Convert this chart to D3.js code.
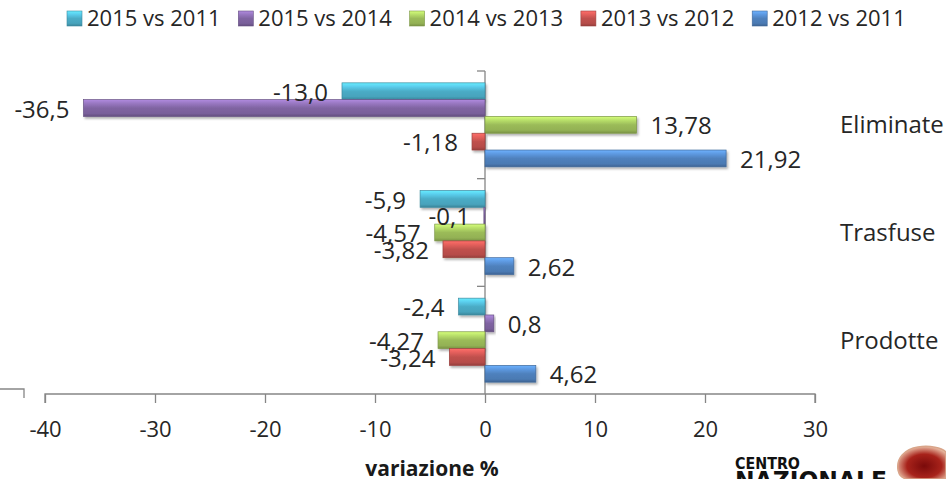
<!DOCTYPE html>
<html>
<head>
<meta charset="utf-8">
<script src="https://cdn.jsdelivr.net/npm/d3@7"></script>
<style>
  body { margin: 0; background: #fff; }
  svg { display: block; font-family: "Open Sans", sans-serif; }
</style>
</head>
<body>
<div id="chart"></div>
<script>
// categories (top to bottom) and series (top bar to bottom bar in each group)
var categories = ["Eliminate", "Trasfuse", "Prodotte"];
var series = ["2015 vs 2011", "2015 vs 2014", "2014 vs 2013", "2013 vs 2012", "2012 vs 2011"];
var colors = ["#4bacc6", "#8064a2", "#9bbb59", "#c0504d", "#4f81bd"];
var decimals = [1, 1, 2, 2, 2];

// one array per series, same order as categories
var v2015vs2011 = [-13.0, -5.9, -2.4];
var v2015vs2014 = [-36.5, -0.1, 0.8];
var v2014vs2013 = [13.78, -4.57, -4.27];
var v2013vs2012 = [-1.18, -3.82, -3.24];
var v2012vs2011 = [21.92, 2.62, 4.62];
var seriesValues = [v2015vs2011, v2015vs2014, v2014vs2013, v2013vs2012, v2012vs2011];

var xTicks = [-40, -30, -20, -10, 0, 10, 20, 30];

var w = 946, h = 479;

var svg = d3.select("#chart").append("svg")
  .attr("width", w)
  .attr("height", h);

var locale = d3.formatLocale({decimal: ",", thousands: ".", grouping: [3], currency: ["", "€"], minus: "-"});

var x = d3.scaleLinear().domain([-40, 30]).range([45, 815]);
var y0 = d3.scaleBand().domain(categories).range([71, 394]).paddingInner(0.22).paddingOuter(0.11);
var y1 = d3.scaleBand().domain(series).range([0, y0.bandwidth()]);

// gradients for the bevelled bars
var defs = svg.append("defs");
colors.forEach(function(c, i) {
  var base = d3.color(c);
  var g = defs.append("linearGradient")
    .attr("id", "grad" + i)
    .attr("x1", 0).attr("y1", 0).attr("x2", 0).attr("y2", 1);
  g.append("stop").attr("offset", "0%").attr("stop-color", base.brighter(0.9));
  g.append("stop").attr("offset", "22%").attr("stop-color", base.brighter(0.5));
  g.append("stop").attr("offset", "50%").attr("stop-color", base);
  g.append("stop").attr("offset", "82%").attr("stop-color", base.darker(0.15));
  g.append("stop").attr("offset", "100%").attr("stop-color", base.darker(0.7));
});
var f = defs.append("filter").attr("id", "shadow").attr("x", "-10%").attr("y", "-30%").attr("width", "130%").attr("height", "180%");
f.append("feDropShadow").attr("dx", 1.5).attr("dy", 2).attr("stdDeviation", 1.2)
  .attr("flood-color", "#000").attr("flood-opacity", 0.3);

// legend
var legend = svg.append("g");
series.forEach(function(s, i) {
  var lx = 67 + i * 171.3;
  legend.append("rect")
    .attr("x", lx).attr("y", 11)
    .attr("width", 15).attr("height", 15)
    .attr("fill", "url(#grad" + i + ")")
    .attr("stroke", d3.color(colors[i]).darker(0.6))
    .attr("stroke-width", 0.6);
  legend.append("text")
    .attr("x", lx + 20).attr("y", 26)
    .attr("font-size", 22)
    .attr("fill", "#262626")
    .text(s);
});

// x axis
var xAxis = svg.append("g")
  .attr("transform", "translate(0,394)")
  .call(d3.axisBottom(x).tickValues(xTicks).tickSize(9).tickFormat(locale.format("d")));
xAxis.select(".domain").attr("stroke", "#868686").attr("stroke-width", 1.3).attr("d", "M45,9V0H815V9");
xAxis.selectAll(".tick line").attr("stroke", "#868686").attr("stroke-width", 1.3);
xAxis.selectAll(".tick text")
  .attr("font-family", "Open Sans")
  .attr("font-size", 22)
  .attr("fill", "#262626")
  .attr("y", 43)
  .attr("dy", 0);

// vertical axis at zero with category ticks
var yAxis = svg.append("g").attr("transform", "translate(" + x(0) + ",0)");
yAxis.append("line")
  .attr("x1", 0).attr("x2", 0).attr("y1", 71).attr("y2", 394)
  .attr("stroke", "#868686").attr("stroke-width", 1.3);
categories.forEach(function(c) {
  var ty = y0(c) - y0.step() * y0.paddingInner() / 2;
  yAxis.append("line")
    .attr("x1", -8).attr("x2", 0).attr("y1", ty).attr("y2", ty)
    .attr("stroke", "#868686").attr("stroke-width", 1.3);
});

// bars
var groups = svg.selectAll("g.cat")
  .data(categories)
  .enter().append("g")
  .attr("class", "cat")
  .attr("transform", function(c) { return "translate(0," + y0(c) + ")"; });

groups.selectAll("rect")
  .data(function(c, ci) {
    return series.map(function(s, si) { return {s: s, si: si, v: seriesValues[si][ci]}; });
  })
  .enter().append("rect")
  .attr("x", function(d) { return Math.min(x(0), x(d.v)); })
  .attr("y", function(d) { return y1(d.s); })
  .attr("width", function(d) { return Math.abs(x(d.v) - x(0)); })
  .attr("height", y1.bandwidth())
  .attr("fill", function(d) { return "url(#grad" + d.si + ")"; })
  .attr("stroke", function(d) { return d3.color(colors[d.si]).darker(0.6); })
  .attr("stroke-width", 0.7)
  .attr("filter", "url(#shadow)");

// value labels
groups.selectAll("text.val")
  .data(function(c, ci) {
    return series.map(function(s, si) { return {s: s, si: si, v: seriesValues[si][ci]}; });
  })
  .enter().append("text")
  .attr("class", "val")
  .attr("x", function(d) { return d.v < 0 ? x(d.v) - 14 : x(d.v) + 14; })
  .attr("y", function(d) { return y1(d.s) + y1.bandwidth() / 2 + 1; })
  .attr("dy", "0.36em")
  .attr("text-anchor", function(d) { return d.v < 0 ? "end" : "start"; })
  .attr("font-size", 24)
  .attr("fill", "#262626")
  .text(function(d) { return locale.format("." + decimals[d.si] + "f")(d.v); });

// category labels on the right
svg.selectAll("text.cat")
  .data(categories)
  .enter().append("text")
  .attr("class", "cat")
  .attr("x", 840)
  .attr("y", function(c) { return y0(c) + y0.bandwidth() / 2; })
  .attr("dy", "0.36em")
  .attr("font-size", 24)
  .attr("fill", "#262626")
  .text(function(c) { return c; });

// axis title
svg.append("text")
  .attr("x", 432).attr("y", 476)
  .attr("text-anchor", "middle")
  .attr("font-size", 21)
  .attr("font-weight", "bold")
  .attr("fill", "#1a1a1a")
  .text("variazione %");

// stray frame corner at the left edge
svg.append("path")
  .attr("d", "M0,389H24V398")
  .attr("fill", "none")
  .attr("stroke", "#868686")
  .attr("stroke-width", 1.3);

// logo remains bottom right
svg.append("text")
  .attr("x", 735).attr("y", 469)
  .attr("font-family", "DejaVu Sans Condensed, DejaVu Sans")
  .attr("font-weight", "bold")
  .attr("font-size", 15)
  .attr("textLength", 65)
  .attr("lengthAdjust", "spacingAndGlyphs")
  .attr("fill", "#111")
  .text("CENTRO");
svg.append("text")
  .attr("x", 735).attr("y", 489)
  .attr("font-family", "DejaVu Sans Condensed, DejaVu Sans")
  .attr("font-weight", "bold")
  .attr("font-size", 24)
  .attr("textLength", 152)
  .attr("lengthAdjust", "spacingAndGlyphs")
  .attr("fill", "#111")
  .text("NAZIONALE");
var rg = defs.append("radialGradient").attr("id", "logo").attr("cx", "55%").attr("cy", "60%").attr("r", "60%");
rg.append("stop").attr("offset", "0%").attr("stop-color", "#7a0a0a");
rg.append("stop").attr("offset", "60%").attr("stop-color", "#a8231b");
rg.append("stop").attr("offset", "100%").attr("stop-color", "#e8b8a0");
svg.append("path")
  .attr("d", "M898,470 C896,458 905,449 918,447 C930,445 942,448 946,452 L946,479 L906,479 C900,477 899,474 898,470 Z")
  .attr("fill", "url(#logo)")
  .attr("stroke", "#d9a58a")
  .attr("stroke-width", 1.5);
</script>
</body>
</html>
